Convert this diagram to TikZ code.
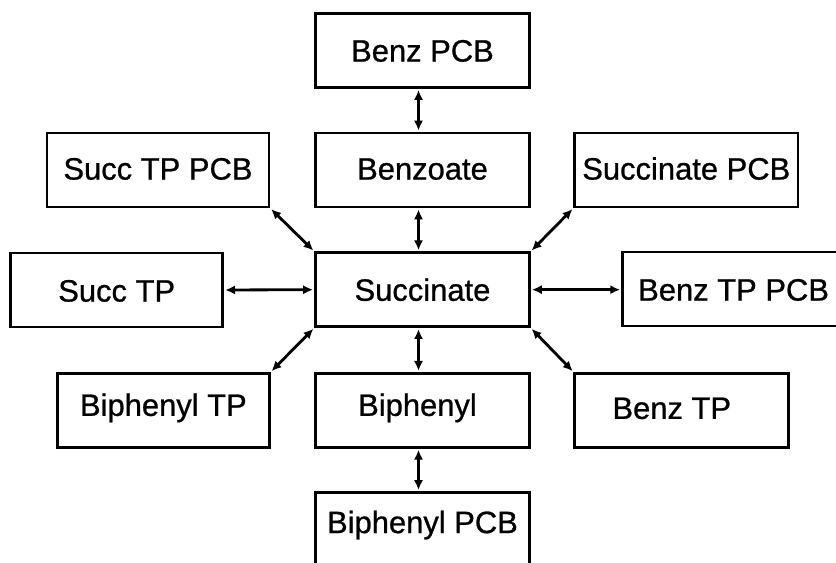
\documentclass[tikz,border=0pt]{standalone}
\usepackage{fontspec}
\setmainfont{Liberation Sans}
\newfontfamily\boxfont{Liberation Sans}[FakeBold=0.8]
\usetikzlibrary{arrows.meta}

\begin{document}
\begin{tikzpicture}[>={Latex[length=2.8pt,width=2.6pt]}, thick,
        box/.style={draw, thick, inner sep=0pt, minimum width=2.14cm, minimum height=0.74cm,
            font=\boxfont\fontsize{8.8pt}{10pt}\selectfont, text height=0.716em, text depth=0.04cm},
        wide/.style={box, minimum width=2.22cm},
        link/.style={<->, thick, shorten <=0.3pt, shorten >=0.3pt}]

    \useasboundingbox (0,0) rectangle (8.36,5.63);

    % --- kolumna srodkowa ---
    \node[box, text depth=0.03cm] (benzpcb)  at (4.225,5.125) {Benz PCB};
    \node[box, text depth=0.06cm] (benzoate) at (4.225,3.93)  {Benzoate};
    \node[box, text depth=0.03cm] (succ)     at (4.225,2.733) {Succinate};
    \node[box, text depth=0.14cm] (biph)     at (4.225,1.527) {Biphenyl\hspace*{0.1cm}};
    \node[box, text depth=0.18cm] (biphpcb)  at (4.225,0.335) {Biphenyl PCB};

    % --- lewa strona ---
    \node[wide, text depth=0.06cm] (succtppcb) at (1.58,3.93)   {Succ TP PCB};
    \node[box, minimum width=2.12cm, text depth=0.02cm] (succtp) at (1.167,2.73) {Succ TP};
    \node[box, minimum width=2.12cm, text depth=0.14cm] (biphtp) at (1.634,1.527) {Biphenyl TP};

    % --- prawa strona ---
    \node[wide, minimum width=2.234cm, text depth=0.06cm] (succpcb) at (6.863,3.93) {Succinate PCB};
    \node[wide, text depth=0.02cm] (benztppcb) at (7.336,2.74)  {Benz TP PCB};
    \node[box, text depth=0.08cm]  (benztp)    at (6.818,1.527) {Benz TP\hspace*{0.2cm}};

    % --- polaczenia pionowe ---
    \draw[link] ([xshift=-0.04cm]benzpcb.south) -- ([xshift=-0.04cm]benzoate.north);
    \draw[link] ([xshift=-0.04cm]benzoate.south) -- ([xshift=-0.04cm]succ.north);
    \draw[link] ([xshift=-0.04cm]succ.south) -- ([xshift=-0.04cm]biph.north);
    \draw[link] ([xshift=-0.04cm]biph.south) -- ([xshift=-0.04cm]biphpcb.north);

    % --- polaczenia poziome ---
    \draw[link] (succtp.east) -- (succ.west);
    \draw[link] (succ.east) -- (succ.east -| benztppcb.west);

    % --- polaczenia ukosne ---
    \draw[link] (succtppcb.south east) -- (succ.north west);
    \draw[link] (succpcb.south west) -- (succ.north east);
    \draw[link] (succ.south west) -- (biphtp.north east);
    \draw[link] (succ.south east) -- (benztp.north west);

\end{tikzpicture}
\end{document}
